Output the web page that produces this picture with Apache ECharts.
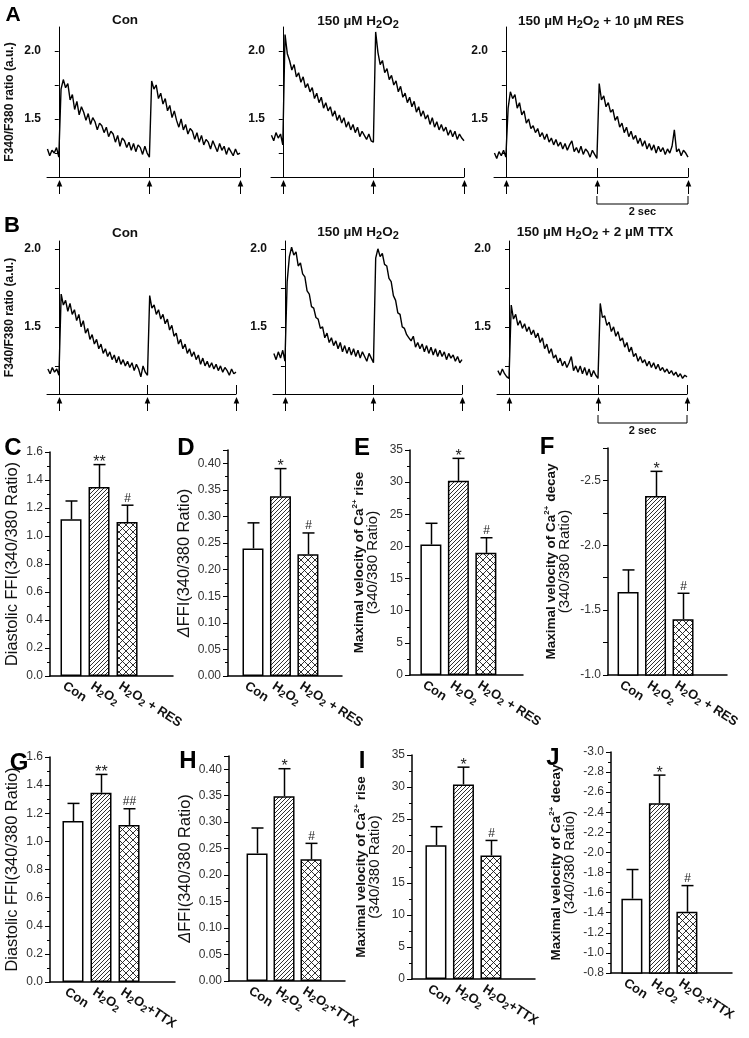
<!DOCTYPE html>
<html><head><meta charset="utf-8">
<script src="https://cdn.jsdelivr.net/npm/echarts@6/dist/echarts.min.js"></script>
<style>html,body{margin:0;padding:0;background:#fff}#c{width:749px;height:1038px}</style>
</head><body><div id="c"></div>
<script>
// ---------------- DATA ----------------
// Calcium transients, sampled every TRACE_DT seconds starting at TRACE_T0 (s); stimuli at 0, 2, 4 s
const TRACE_T0 = -0.25;
const TRACE_DT = 0.05;
const stimulusTimes = [0, 2, 4];
const scaleBarSec = [2, 4];

const traceA_con = [1.28,1.23,1.27,1.25,1.29,1.22,
 1.72,1.79,1.73,1.76,1.64,1.68,1.57,1.63,1.53,1.59,
 1.55,1.49,1.54,1.46,1.51,1.48,1.42,1.47,1.45,1.40,
 1.44,1.37,1.41,1.39,1.33,1.38,1.30,1.36,1.34,1.29,
 1.33,1.27,1.32,1.26,1.31,1.29,1.24,1.30,1.25,1.22,
 1.78,1.72,1.75,1.65,1.69,1.61,1.65,1.56,1.60,1.51,
 1.56,1.49,1.44,1.50,1.42,1.46,1.39,1.43,1.41,1.35,
 1.40,1.33,1.38,1.31,1.35,1.33,1.28,1.34,1.30,1.26,
 1.32,1.27,1.30,1.24,1.29,1.26,1.23,1.28,1.24,1.25];
const traceA_h2o2 = [1.38,1.34,1.40,1.36,1.39,1.31,
 2.12,1.98,1.93,1.86,1.90,1.81,1.84,1.77,1.81,1.73,
 1.76,1.70,1.73,1.65,1.69,1.62,1.66,1.58,1.62,1.56,
 1.59,1.52,1.56,1.49,1.53,1.47,1.51,1.44,1.48,1.42,
 1.46,1.40,1.44,1.37,1.41,1.38,1.35,1.39,1.34,1.33,
 2.14,1.99,1.90,1.93,1.84,1.87,1.79,1.82,1.75,1.78,
 1.70,1.74,1.66,1.69,1.62,1.66,1.59,1.63,1.55,1.59,
 1.52,1.56,1.50,1.53,1.46,1.51,1.44,1.48,1.42,1.46,
 1.41,1.44,1.38,1.42,1.37,1.41,1.35,1.39,1.36,1.34];
const traceA_res = [1.25,1.21,1.26,1.23,1.27,1.22,
 1.58,1.70,1.65,1.68,1.58,1.62,1.53,1.56,1.47,1.50,
 1.43,1.45,1.40,1.43,1.37,1.40,1.35,1.39,1.33,1.36,
 1.31,1.35,1.30,1.33,1.28,1.32,1.27,1.31,1.34,1.26,
 1.29,1.25,1.30,1.24,1.28,1.26,1.22,1.27,1.24,1.21,
 1.76,1.64,1.67,1.59,1.62,1.55,1.57,1.49,1.52,1.44,
 1.47,1.40,1.44,1.37,1.41,1.35,1.38,1.32,1.36,1.30,
 1.34,1.28,1.32,1.27,1.31,1.25,1.30,1.26,1.29,1.24,
 1.28,1.25,1.30,1.42,1.26,1.28,1.23,1.27,1.25,1.22];
const traceB_con = [1.23,1.20,1.24,1.21,1.23,1.19,
 1.71,1.64,1.67,1.60,1.65,1.58,1.61,1.54,1.58,1.50,
 1.54,1.46,1.49,1.42,1.45,1.39,1.42,1.36,1.39,1.33,
 1.36,1.31,1.34,1.29,1.32,1.27,1.31,1.26,1.29,1.25,
 1.28,1.24,1.27,1.22,1.26,1.23,1.18,1.25,1.21,1.19,
 1.70,1.62,1.64,1.58,1.61,1.55,1.58,1.52,1.55,1.48,
 1.51,1.44,1.46,1.39,1.42,1.36,1.39,1.33,1.36,1.31,
 1.34,1.29,1.32,1.26,1.30,1.25,1.28,1.24,1.27,1.23,
 1.26,1.22,1.25,1.21,1.24,1.22,1.19,1.23,1.20,1.21];
const traceB_h2o2 = [1.33,1.29,1.34,1.30,1.35,1.28,
 1.79,1.95,2.01,1.96,1.98,1.89,1.91,1.84,1.82,1.73,
 1.71,1.63,1.62,1.56,1.55,1.49,1.50,1.43,1.46,1.40,
 1.43,1.38,1.41,1.36,1.40,1.34,1.38,1.33,1.37,1.32,
 1.36,1.31,1.35,1.30,1.34,1.31,1.28,1.33,1.30,1.27,
 1.94,2.00,1.95,1.97,1.90,1.89,1.81,1.79,1.70,1.67,
 1.59,1.58,1.50,1.49,1.45,1.43,1.41,1.44,1.37,1.40,
 1.36,1.39,1.34,1.38,1.33,1.37,1.32,1.36,1.31,1.35,
 1.31,1.34,1.29,1.33,1.30,1.32,1.28,1.31,1.27,1.29];
const traceB_ttx = [1.22,1.19,1.23,1.20,1.18,1.17,
 1.64,1.55,1.58,1.51,1.54,1.49,1.52,1.47,1.50,1.45,
 1.48,1.43,1.46,1.40,1.43,1.36,1.39,1.33,1.36,1.30,
 1.32,1.27,1.30,1.25,1.28,1.24,1.27,1.31,1.22,1.25,
 1.21,1.25,1.20,1.24,1.19,1.23,1.18,1.22,1.19,1.17,
 1.65,1.56,1.57,1.51,1.53,1.47,1.50,1.44,1.47,1.41,
 1.43,1.37,1.40,1.34,1.37,1.31,1.33,1.28,1.31,1.27,
 1.29,1.25,1.28,1.24,1.27,1.23,1.26,1.22,1.24,1.21,
 1.23,1.20,1.22,1.19,1.21,1.18,1.20,1.17,1.19,1.18];

const traceTickValues = [1.25, 1.5, 1.75, 2.0];
const traceLabelValues = [1.5, 2.0];

// Bar panels (mean, SEM, significance marks)
const catsRES = ['Con', 'H2O2', 'H2O2 + RES'];
const catsTTX = ['Con', 'H2O2', 'H2O2+TTX'];
const C_mean = [1.12, 1.35, 1.10];  const C_sem = [0.13, 0.16, 0.12];  const C_sig = ['', '**', '#'];
const D_mean = [0.24, 0.338, 0.229]; const D_sem = [0.048, 0.052, 0.040]; const D_sig = ['', '*', '#'];
const E_mean = [20.3, 30.2, 19.0];  const E_sem = [3.3, 3.5, 2.35];   const E_sig = ['', '*', '#'];
const F_mean = [-1.64, -2.38, -1.43]; const F_sem = [0.17, 0.19, 0.20]; const F_sig = ['', '*', '#'];
const G_mean = [1.145, 1.346, 1.117]; const G_sem = [0.125, 0.13, 0.115]; const G_sig = ['', '**', '##'];
const H_mean = [0.241, 0.349, 0.23]; const H_sem = [0.048, 0.052, 0.03]; const H_sig = ['', '*', '#'];
const I_mean = [20.9, 30.4, 19.3];  const I_sem = [2.9, 2.7, 2.35];   const I_sig = ['', '*', '#'];
const J_mean = [-1.54, -2.49, -1.41]; const J_sem = [0.29, 0.28, 0.26]; const J_sig = ['', '*', '#'];

// ---------------- RENDERING ----------------
const FONT = '"Liberation Sans", Arial, Helvetica, sans-serif';
const grids = [], xAxes = [], yAxes = [], series = [], graphics = [];

function makePattern(size, dirs) {
  const c = document.createElement('canvas');
  c.width = size; c.height = size;
  const g = c.getContext('2d');
  g.fillStyle = '#fff'; g.fillRect(0, 0, size, size);
  g.strokeStyle = '#1a1a1a'; g.lineWidth = 0.9;
  g.beginPath();
  if (dirs.indexOf('/') >= 0) {
    g.moveTo(0, size); g.lineTo(size, 0);
    g.moveTo(-1, 1); g.lineTo(1, -1);
    g.moveTo(size - 1, size + 1); g.lineTo(size + 1, size - 1);
  }
  if (dirs.indexOf('\\') >= 0) {
    g.moveTo(0, 0); g.lineTo(size, size);
    g.moveTo(size - 1, -1); g.lineTo(size + 1, 1);
    g.moveTo(-1, size - 1); g.lineTo(1, size + 1);
  }
  g.stroke();
  return c;
}
const FILLS = ['#ffffff',
  { image: makePattern(4, ['/']), repeat: 'repeat' },
  { image: makePattern(7, ['/', '\\']), repeat: 'repeat' }];

function toRich(s) { return s.replace(/([HO])2/g, '$1{s|2}'); }
const catRich = { s: { fontFamily: FONT, fontWeight: 'bold', fontSize: 10, fill: '#111', padding: [7, 0, 0, 0] } };

function addTrace(o) {
  const gi = grids.length;
  grids.push({ left: o.left, top: o.top, width: o.width, height: o.height, containLabel: false, outerBoundsMode: 'none' });
  xAxes.push({ gridIndex: gi, type: 'value', min: o.xmin, max: 4.0,
    axisLine: { show: true, lineStyle: { color: '#000', width: 1 } },
    axisTick: { show: true, inside: true, length: 9, customValues: stimulusTimes, lineStyle: { color: '#000', width: 1 } },
    axisLabel: { show: false }, splitLine: { show: false } });
  yAxes.push({ gridIndex: gi, type: 'value', min: o.ymin, max: o.ymax,
    axisLine: { show: true, lineStyle: { color: '#000', width: 1 } },
    axisTick: { show: true, length: 4, customValues: traceTickValues, lineStyle: { color: '#000' } },
    axisLabel: { customValues: traceLabelValues, formatter: v => v.toFixed(1), fontFamily: FONT, fontWeight: 'bold', fontSize: 12, color: '#111', margin: 6 },
    splitLine: { show: false },
    name: o.yName || '', nameLocation: 'middle', nameRotate: 90, nameGap: 31,
    nameTextStyle: { fontFamily: FONT, fontWeight: 'bold', fontSize: 12, color: '#111' } });
  series.push({ type: 'line', xAxisIndex: gi, yAxisIndex: gi,
    data: o.data.map((v, i) => [TRACE_T0 + TRACE_DT * i, v]),
    symbol: 'none', showSymbol: false, lineStyle: { color: '#000', width: 1.4 }, clip: false, silent: true });
  const ymin = o.ymin;
  series.push({ type: 'custom', xAxisIndex: gi, yAxisIndex: gi, clip: false, silent: true,
    data: stimulusTimes.map(t => [t]),
    renderItem: function (params, api) {
      const p = api.coord([api.value(0), ymin]);
      const x = Math.round(p[0]) + 0.5, y = p[1];
      return { type: 'group', children: [
        { type: 'line', shape: { x1: x, y1: y + 6, x2: x, y2: y + 17 }, style: { stroke: '#000', lineWidth: 1 } },
        { type: 'polygon', shape: { points: [[x, y + 3], [x - 2.8, y + 9.5], [x + 2.8, y + 9.5]] }, style: { fill: '#000' } }
      ] };
    } });
  if (o.scaleBar) {
    series.push({ type: 'custom', xAxisIndex: gi, yAxisIndex: gi, clip: false, silent: true,
      data: [scaleBarSec],
      renderItem: function (params, api) {
        const p1 = api.coord([api.value(0), ymin]);
        const p2 = api.coord([api.value(1), ymin]);
        const yb = p1[1] + o.scaleBar;
        return { type: 'group', children: [
          { type: 'polyline', shape: { points: [[p1[0], yb - 8], [p1[0], yb], [p2[0], yb], [p2[0], yb - 8]] }, style: { stroke: '#000', lineWidth: 1, fill: null } },
          { type: 'text', style: { text: '2 sec', x: (p1[0] + p2[0]) / 2, y: yb + 2, align: 'center', verticalAlign: 'top', fontFamily: FONT, fontWeight: 'bold', fontSize: 11, fill: '#111' } }
        ] };
      } });
  }
}

function addBar(o) {
  const gi = grids.length;
  grids.push({ left: o.left, top: o.top, width: o.width, height: o.height, containLabel: false, outerBoundsMode: 'none' });
  xAxes.push({ gridIndex: gi, type: 'value', min: o.xmin, max: o.xmax,
    axisLine: { show: true, onZero: false, lineStyle: { color: '#000', width: 1.5 } },
    axisTick: { show: false }, splitLine: { show: false }, axisLabel: { show: false } });
  const nameSize = o.nameSize, lh = o.nameLH || 18;
  yAxes.push({ gridIndex: gi, type: 'value', min: o.ymin, max: o.ymax, interval: o.interval, inverse: !!o.inverse,
    axisLine: { show: true, onZero: false, lineStyle: { color: '#000', width: 1.5 } },
    axisTick: { show: true, length: 5, lineStyle: { color: '#000', width: 1 } },
    minorTick: { show: !!o.minor, splitNumber: 2, length: 3, lineStyle: { color: '#000', width: 1 } },
    splitLine: { show: false },
    axisLabel: { formatter: o.fmt, fontFamily: FONT, fontSize: 12, color: '#333', margin: 7 },
    name: o.yName, nameLocation: 'middle', nameRotate: 90, nameGap: o.nameGap,
    nameTextStyle: { fontFamily: FONT, fontSize: nameSize, fontWeight: 'normal', color: '#111', lineHeight: lh, align: 'center',
      rich: { i: { fontFamily: FONT, fontStyle: 'italic', fontSize: nameSize, color: '#111', lineHeight: lh },
              r: { fontFamily: FONT, fontWeight: 'normal', fontSize: o.name2Size || nameSize, color: '#111', lineHeight: lh },
              b: { fontFamily: FONT, fontWeight: 'bold', fontSize: nameSize, color: '#111', lineHeight: lh },
              sup: { fontFamily: FONT, fontWeight: 'bold', fontSize: 8, color: '#111', padding: [0, 0, 9, 0] } } } });
  series.push({ type: 'bar', xAxisIndex: gi, yAxisIndex: gi, barWidth: 21, clip: true, silent: true,
    data: o.means.map((m, i) => ({ value: [i, m], itemStyle: { color: FILLS[i] } })),
    itemStyle: { borderColor: '#000', borderWidth: 1.5 } });
  const sig = o.sig;
  series.push({ type: 'custom', xAxisIndex: gi, yAxisIndex: gi, clip: false, silent: true, z: 5,
    data: o.means.map((m, i) => [i, m, m + Math.sign(m) * o.sems[i]]),
    renderItem: function (params, api) {
      const i = params.dataIndex;
      const p0 = api.coord([api.value(0), api.value(1)]);
      const p1 = api.coord([api.value(0), api.value(2)]);
      const x = Math.round(p0[0]) + 0.5;
      const ch = [
        { type: 'line', shape: { x1: x, y1: p0[1], x2: x, y2: p1[1] }, style: { stroke: '#000', lineWidth: 1.5 } },
        { type: 'line', shape: { x1: x - 6, y1: p1[1], x2: x + 6, y2: p1[1] }, style: { stroke: '#000', lineWidth: 1.5 } }
      ];
      const s = sig[i];
      if (s) {
        const star = s.indexOf('*') >= 0;
        ch.push({ type: 'text', style: { text: s, x: x, y: star ? p1[1] + 6 : p1[1] - 1, align: 'center', verticalAlign: 'bottom',
          fontFamily: FONT, fontSize: star ? 16 : 12, fill: '#222' } });
      }
      return { type: 'group', children: ch };
    } });
  // category labels, placed through the axes below each bar
  const baseVal = o.inverse ? o.ymax : o.ymin;
  const cats = o.cats;
  series.push({ type: 'custom', xAxisIndex: gi, yAxisIndex: gi, clip: false, silent: true,
    data: cats.map((c, i) => [i]),
    renderItem: function (params, api) {
      const p = api.coord([api.value(0), baseVal]);
      return { type: 'text', x: p[0] - 7, y: p[1] + 9, rotation: -33 * Math.PI / 180,
        style: { text: toRich(cats[params.dataIndex]), align: 'left', verticalAlign: 'middle', fontFamily: FONT, fontWeight: 'bold', fontSize: 13, fill: '#111', rich: catRich } };
    } });
}

// Row A traces
addTrace({ left: 47, top: 27, width: 193, height: 150, xmin: -0.26, ymin: 1.074, ymax: 2.176, data: traceA_con, yName: 'F340/F380 ratio (a.u.)' });
addTrace({ left: 271, top: 27, width: 193, height: 150, xmin: -0.26, ymin: 1.074, ymax: 2.176, data: traceA_h2o2 });
addTrace({ left: 494, top: 27, width: 194, height: 150, xmin: -0.26, ymin: 1.074, ymax: 2.176, data: traceA_res, scaleBar: 27 });
// Row B traces
addTrace({ left: 47, top: 241, width: 189, height: 153, xmin: -0.27, ymin: 1.07, ymax: 2.05, data: traceB_con, yName: 'F340/F380 ratio (a.u.)' });
addTrace({ left: 273, top: 241, width: 189, height: 153, xmin: -0.27, ymin: 1.07, ymax: 2.05, data: traceB_h2o2 });
addTrace({ left: 497, top: 241, width: 190, height: 153, xmin: -0.27, ymin: 1.07, ymax: 2.05, data: traceB_ttx, scaleBar: 29 });

const f1 = v => v.toFixed(1), f2 = v => (v > 0.41 ? '' : v.toFixed(2)), f0 = v => String(Math.round(v));
const fHalf = v => (Math.abs(v * 2 - Math.round(v * 2)) < 1e-6 ? v.toFixed(1) : '');
const velRise = '{b|Maximal velocity of Ca}{sup|2+}{b| rise}\n{r|(340/380 Ratio)}';
const velDecay = '{b|Maximal velocity of Ca}{sup|2+}{b| decay}\n{r|(340/380 Ratio)}';

// Row C-F
addBar({ left: 50, top: 452, width: 123, height: 224, xmin: -0.75, xmax: 3.64, ymin: 0, ymax: 1.6, interval: 0.2, minor: true, fmt: f1,
  means: C_mean, sems: C_sem, sig: C_sig, cats: catsRES, yName: 'Diastolic FFI(340/380 Ratio)', nameGap: 29, nameSize: 16.4 });
addBar({ left: 228, top: 450, width: 114, height: 226, xmin: -0.91, xmax: 3.24, ymin: 0, ymax: 0.425, interval: 0.05, minor: true, fmt: f2,
  means: D_mean, sems: D_sem, sig: D_sig, cats: catsRES, yName: '{i|Δ}{r|FFI(340/380 Ratio)}', nameGap: 31, nameSize: 16.4 });
addBar({ left: 410, top: 450, width: 113, height: 225, xmin: -0.76, xmax: 3.35, ymin: 0, ymax: 35, interval: 5, minor: true, fmt: f0,
  means: E_mean, sems: E_sem, sig: E_sig, cats: catsRES, yName: velRise, nameGap: 30, nameSize: 13.5, name2Size: 15, nameLH: 14 });
addBar({ left: 608, top: 448, width: 119, height: 227, xmin: -0.73, xmax: 3.6, ymin: -2.75, ymax: -1.0, interval: 0.25, inverse: true, minor: false, fmt: fHalf,
  means: F_mean, sems: F_sem, sig: F_sig, cats: catsRES, yName: velDecay, nameGap: 36, nameSize: 13.5, name2Size: 15, nameLH: 14 });
// Row G-J
addBar({ left: 50, top: 757, width: 125, height: 225, xmin: -0.82, xmax: 3.64, ymin: 0, ymax: 1.6, interval: 0.2, minor: true, fmt: f1,
  means: G_mean, sems: G_sem, sig: G_sig, cats: catsTTX, yName: 'Diastolic FFI(340/380 Ratio)', nameGap: 29, nameSize: 16.4 });
addBar({ left: 229, top: 756, width: 116, height: 225, xmin: -1.04, xmax: 3.26, ymin: 0, ymax: 0.425, interval: 0.05, minor: true, fmt: f2,
  means: H_mean, sems: H_sem, sig: H_sig, cats: catsTTX, yName: '{i|Δ}{r|FFI(340/380 Ratio)}', nameGap: 32, nameSize: 16.4 });
addBar({ left: 412, top: 755, width: 123, height: 224, xmin: -0.87, xmax: 3.6, ymin: 0, ymax: 35, interval: 5, minor: true, fmt: f0,
  means: I_mean, sems: I_sem, sig: I_sig, cats: catsTTX, yName: velRise, nameGap: 30, nameSize: 13.5, name2Size: 15, nameLH: 14 });
addBar({ left: 611, top: 752, width: 121, height: 221, xmin: -0.76, xmax: 3.64, ymin: -3.0, ymax: -0.8, interval: 0.2, inverse: true, minor: true, fmt: f1,
  means: J_mean, sems: J_sem, sig: J_sig, cats: catsTTX, yName: velDecay, nameGap: 34, nameSize: 13.5, name2Size: 15, nameLH: 14 });

// Titles and panel letters
const titleRich = { s: { fontFamily: FONT, fontWeight: 'bold', fontSize: 11, fill: '#111', padding: [8, 0, 0, 0] } };
function title(text, x, y) {
  graphics.push({ type: 'text', x: x, y: y, style: { text: toRich(text), align: 'center', verticalAlign: 'middle', fontFamily: FONT, fontWeight: 'bold', fontSize: 13.5, fill: '#111', rich: titleRich } });
}
title('Con', 125, 20); title('150 µM H2O2', 358, 21); title('150 µM H2O2 + 10 µM RES', 601, 21);
title('Con', 125, 233); title('150 µM H2O2', 358, 232); title('150 µM H2O2 + 2 µM TTX', 595, 232);
function letter(t, x, y, size) {
  graphics.push({ type: 'text', x: x, y: y, style: { text: t, align: 'center', verticalAlign: 'middle', fontFamily: FONT, fontWeight: 'bold', fontSize: size, fill: '#000' } });
}
letter('A', 13, 15, 21); letter('B', 12, 226, 22);
letter('C', 13, 448, 24); letter('D', 186, 448, 24); letter('E', 362, 448, 24); letter('F', 547, 447, 24);
letter('G', 19, 763, 24); letter('H', 188, 761, 24); letter('I', 362, 761, 24); letter('J', 553, 758, 24);

const chart = echarts.init(document.getElementById('c'), null, { renderer: 'canvas' });
chart.setOption({ animation: false, backgroundColor: '#fff', textStyle: { fontFamily: FONT },
  grid: grids, xAxis: xAxes, yAxis: yAxes, series: series, graphic: graphics });
</script></body></html>
